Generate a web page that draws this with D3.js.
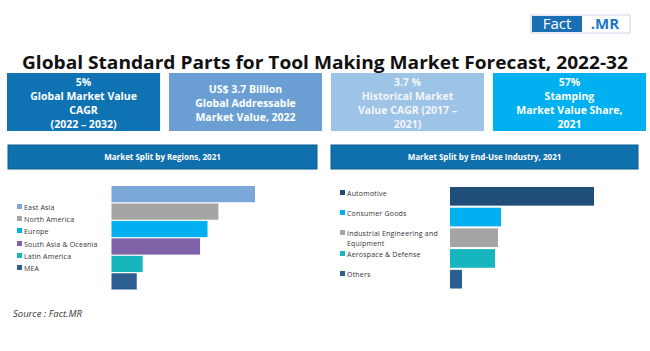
<!DOCTYPE html>
<html>
<head>
<meta charset="utf-8">
<script src="https://cdn.jsdelivr.net/npm/d3@7"></script>
<style>
  body { margin: 0; background: #fff; }
  svg text { font-family: "Open Sans", "Noto Sans", sans-serif; }
</style>
</head>
<body>
<div id="chart-area"></div>
<script>
// Data
// ****
const title = "Global Standard Parts for Tool Making Market Forecast, 2022-32"
const kpiLines = [
  ["5%", "Global Market Value", "CAGR", "(2022 \u2013 2032)"],
  ["US$ 3.7 Billion", "Global Addressable", "Market Value, 2022"],
  ["3.7 %", "Historical Market", "Value CAGR (2017 \u2013", "2021)"],
  ["57%", "Stamping", "Market Value Share,", "2021"]
]
const kpiColors = ["#0f73b3", "#6b9fd4", "#9dc3e6", "#00b0f0"]

const regions = ["East Asia", "North America", "Europe", "South Asia & Oceania", "Latin America", "MEA"]
const regionShare = [29, 21.6, 19.4, 17.9, 6.3, 5.1]
const regionColors = ["#7ba7d9", "#a5a5a5", "#00b0f0", "#7f62a8", "#17b5bd", "#2d5e91"]

const industries = ["Automotive", "Consumer Goods", "Industrial Engineering and|Equipment", "Aerospace & Defense", "Others"]
const industryShare = [48, 17, 16, 15, 4]
const industryColors = ["#1f4e79", "#00b0f0", "#a5a5a5", "#17b5bd", "#2d5e91"]

// Config
// ******
const width = 650, height = 351
const svg = d3.select("#chart-area").append("svg")
  .attr("width", width).attr("height", height)

// Logo
const logo = svg.append("g")
logo.append("rect").attr("x", 531).attr("y", 15).attr("width", 99).attr("height", 18)
  .attr("fill", "#fff").attr("stroke", "#c9d6e3").attr("stroke-width", 1)
logo.append("rect").attr("x", 532).attr("y", 16).attr("width", 50).attr("height", 16).attr("fill", "#1b70b5")
logo.append("text").attr("x", 557).attr("y", 29).attr("text-anchor", "middle")
  .attr("font-size", "15px").attr("fill", "#fff").text("Fact")
logo.append("text").attr("x", 605).attr("y", 29).attr("text-anchor", "middle")
  .attr("font-size", "15px").attr("font-weight", "bold").attr("fill", "#1b78c4").text(".MR")

// Title
svg.append("text").attr("x", 22).attr("y", 69)
  .attr("font-size", "18px").attr("font-weight", "bold").attr("fill", "#111")
  .attr("textLength", 606).attr("lengthAdjust", "spacingAndGlyphs")
  .text(title)

// KPI boxes
const boxX = d3.scaleBand().domain(d3.range(kpiLines.length)).range([7, 646]).paddingInner(0.055)
kpiLines.forEach((lines, i) => {
  const bx = boxX(i), bw = boxX.bandwidth()
  svg.append("rect").attr("x", bx).attr("y", 73).attr("width", bw).attr("height", 58).attr("fill", kpiColors[i])
  const cy = 103 - (lines.length - 1) * 7
  lines.forEach((l, j) => {
    svg.append("text").attr("x", bx + bw / 2).attr("y", cy + j * 14 + 4)
      .attr("text-anchor", "middle").attr("font-size", "10.5px").attr("font-weight", "bold")
      .attr("fill", i === 2 ? "#f2f6fb" : "#fff").text(l)
  })
})

// Panels
function panel(opts) {
  const {hx, hw, label, cats, vals, colors, x0, maxLen, y0, y1, pad, legX, legY} = opts
  svg.append("rect").attr("x", hx).attr("y", 145).attr("width", hw).attr("height", 24)
    .attr("fill", "#0f70ad").attr("stroke", "#0b5c8e").attr("stroke-width", 1)
  svg.append("text").attr("x", hx + hw / 2).attr("y", 160).attr("text-anchor", "middle")
    .attr("font-size", "8px").attr("font-weight", "bold").attr("fill", "#fff").text(label)

  const x = d3.scaleLinear().domain([0, d3.max(vals)]).range([0, maxLen])
  const y = d3.scaleBand().domain(cats).range([y0, y1]).paddingInner(pad)

  svg.append("g").selectAll("rect").data(cats).enter().append("rect")
    .attr("x", x0)
    .attr("y", d => y(d))
    .attr("width", (d, i) => x(vals[i]))
    .attr("height", y.bandwidth())
    .attr("fill", (d, i) => colors[i])

  // Legend
  const leg = svg.append("g")
  cats.forEach((c, i) => {
    leg.append("rect").attr("x", legX).attr("y", legY[i] - 3).attr("width", 5).attr("height", 5).attr("fill", colors[i])
    c.split("|").forEach((t, j) => {
      leg.append("text").attr("x", legX + 7).attr("y", legY[i] + 2.5 + j * 10)
        .attr("font-size", "7px").attr("fill", "#333").attr("letter-spacing", "0.2px").text(t)
    })
  })
}

panel({hx: 8, hw: 309, label: "Market Split by Regions, 2021",
  cats: regions, vals: regionShare, colors: regionColors,
  x0: 111.5, maxLen: 143.5, y0: 186, y1: 289.5, pad: 0.07,
  legX: 17, legY: [207, 219, 231, 244, 256, 268]})

panel({hx: 331, hw: 307, label: "Market Split by End-Use Industry, 2021",
  cats: industries, vals: industryShare, colors: industryColors,
  x0: 450, maxLen: 144, y0: 187, y1: 288.5, pad: 0.1,
  legX: 340, legY: [193, 213, 233, 254, 274]})

// Source
svg.append("text").attr("x", 13).attr("y", 317)
  .attr("font-size", "9.5px").attr("font-style", "italic").attr("fill", "#333")
  .text("Source : Fact.MR")
</script>
</body>
</html>
